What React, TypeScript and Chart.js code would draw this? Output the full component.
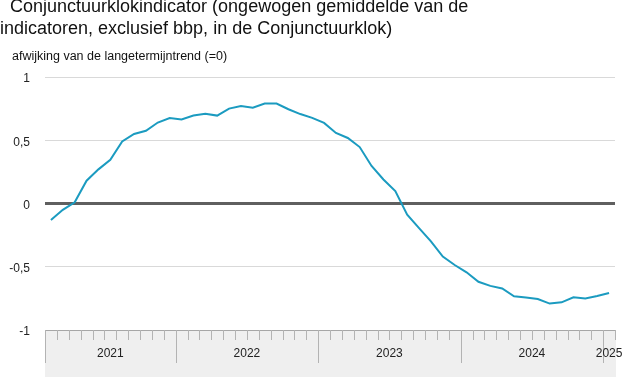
import React, { useEffect, useRef } from "react";
import { Chart, registerables } from "chart.js";

Chart.register(...registerables);

const months = [
  "2021-02", "2021-03", "2021-04", "2021-05", "2021-06", "2021-07", "2021-08", "2021-09", "2021-10", "2021-11", "2021-12",
  "2022-01", "2022-02", "2022-03", "2022-04", "2022-05", "2022-06", "2022-07", "2022-08", "2022-09", "2022-10", "2022-11", "2022-12",
  "2023-01", "2023-02", "2023-03", "2023-04", "2023-05", "2023-06", "2023-07", "2023-08", "2023-09", "2023-10", "2023-11", "2023-12",
  "2024-01", "2024-02", "2024-03", "2024-04", "2024-05", "2024-06", "2024-07", "2024-08", "2024-09", "2024-10", "2024-11", "2024-12",
  "2025-01",
];

const values = [
  -0.13, -0.05, 0.01, 0.18, 0.27, 0.345, 0.49, 0.55, 0.575, 0.64, 0.675,
  0.665, 0.695, 0.71, 0.695, 0.75, 0.77, 0.757, 0.79, 0.79, 0.745, 0.707, 0.677,
  0.637, 0.558, 0.518, 0.446, 0.297, 0.19, 0.098, -0.088, -0.194, -0.3, -0.42, -0.486,
  -0.544, -0.619, -0.651, -0.672, -0.733, -0.743, -0.755, -0.791, -0.781, -0.741, -0.751, -0.731,
  -0.707,
];

const yearLabels = ["2021", "2022", "2023", "2024", "2025"];

const yTicks = [-1, -0.5, 0, 0.5, 1];

const title = "Conjunctuurklokindicator (ongewogen gemiddelde van de indicatoren, exclusief bbp, in de Conjunctuurklok)";
const subtitle = "afwijking van de langetermijntrend (=0)";

const FONT = "'Liberation Sans', Arial, Helvetica, sans-serif";

export default function App() {
  const ref = useRef<HTMLCanvasElement | null>(null);

  useEffect(() => {
    const canvas = ref.current;
    if (!canvas) return;

    // month index on x: month i covers [i, i+1]
    const points = months.map((m, i) => ({ x: i + 0.5, y: values[i] }));

    // year spans in month index
    const yearSpans = yearLabels.map((y) => {
      let first = -1;
      let last = -1;
      months.forEach((m, i) => {
        if (m.startsWith(y)) {
          if (first < 0) first = i;
          last = i;
        }
      });
      return { label: y, start: first, end: last + 1 };
    });

    const axisPlugin = {
      id: "yearAxis",
      afterDraw(chart: any) {
        const ctx = chart.ctx;
        const xs = chart.scales.x;
        const area = chart.chartArea;
        const bottom = chart.height;
        ctx.save();
        // band
        const x0 = xs.getPixelForValue(0);
        const x1 = xs.getPixelForValue(months.length) + 1;
        ctx.fillStyle = "#efefef";
        ctx.fillRect(x0, area.bottom, x1 - x0, bottom - area.bottom);
        // top border
        ctx.strokeStyle = "#a6a6a6";
        ctx.lineWidth = 1;
        ctx.beginPath();
        ctx.moveTo(x0, area.bottom + 0.5);
        ctx.lineTo(x1, area.bottom + 0.5);
        ctx.stroke();
        // month ticks
        ctx.strokeStyle = "#b3b3b3";
        for (let i = 0; i <= months.length; i++) {
          const px = Math.round(xs.getPixelForValue(i)) + 0.5;
          const isYear = i === 0 || yearSpans.some((s) => s.start === i);
          ctx.beginPath();
          ctx.moveTo(px, area.bottom);
          ctx.lineTo(px, area.bottom + (isYear ? 33 : 10));
          ctx.stroke();
        }
        // labels
        ctx.fillStyle = "#222222";
        ctx.font = `12px ${FONT}`;
        ctx.textAlign = "center";
        ctx.textBaseline = "middle";
        yearSpans.forEach((s) => {
          const a = xs.getPixelForValue(s.start);
          const b = xs.getPixelForValue(s.end);
          ctx.fillText(s.label, (a + b) / 2, area.bottom + 23.5);
        });
        ctx.restore();
      },
    };

    const chart = new Chart(canvas, {
      type: "line",
      data: {
        datasets: [
          {
            data: points,
            borderColor: "#1b9bc0",
            borderWidth: 2,
            pointRadius: 0,
            tension: 0,
            fill: false,
          },
        ],
      },
      options: {
        responsive: false,
        animation: false,
        events: [],
        layout: { padding: { top: 77, right: 11, bottom: 47, left: 0 } },
        plugins: { legend: { display: false }, tooltip: { enabled: false }, title: { display: false } },
        scales: {
          x: { type: "linear", min: 0, max: months.length, display: false },
          y: {
            min: -1,
            max: 1,
            afterBuildTicks: (s: any) => {
              s.ticks = yTicks.map((v) => ({ value: v }));
            },
            afterFit: (s: any) => {
              s.width = 45;
            },
            ticks: {
              padding: 15,
              labelOffset: 2,
              color: "#222222",
              font: { family: FONT, size: 12 },
              callback: (v: any) => String(v).replace(".", ","),
            },
            grid: {
              drawTicks: false,
              color: (c: any) => {
                const v = c.tick ? c.tick.value : null;
                if (v === 0) return "#5f5f5f";
                if (v === -1) return "rgba(0,0,0,0)";
                return "#d9d9d9";
              },
              lineWidth: (c: any) => (c.tick && c.tick.value === 0 ? 3 : 1),
            },
            border: { display: false },
          },
        },
      },
      plugins: [axisPlugin],
    });

    return () => chart.destroy();
  }, []);

  const parts = title.split(" indicatoren");

  return (
    <div style={{ position: "absolute", left: 0, top: 0, width: 626, height: 377, overflow: "hidden", background: "#fff" }}>
      <canvas ref={ref} width={626} height={377} style={{ position: "absolute", left: 0, top: 0, width: 626, height: 377 }} />
      <div
        style={{
          position: "absolute",
          left: 0,
          top: -4,
          fontFamily: FONT,
          fontSize: 18,
          lineHeight: "21.5px",
          color: "#111",
          whiteSpace: "pre",
        }}
      >
        {"  " + parts[0] + "\nindicatoren" + parts[1]}
      </div>
      <div
        style={{
          position: "absolute",
          left: 12,
          top: 49,
          fontFamily: FONT,
          fontSize: 12.5,
          color: "#111",
          whiteSpace: "pre",
        }}
      >
        {subtitle}
      </div>
    </div>
  );
}
